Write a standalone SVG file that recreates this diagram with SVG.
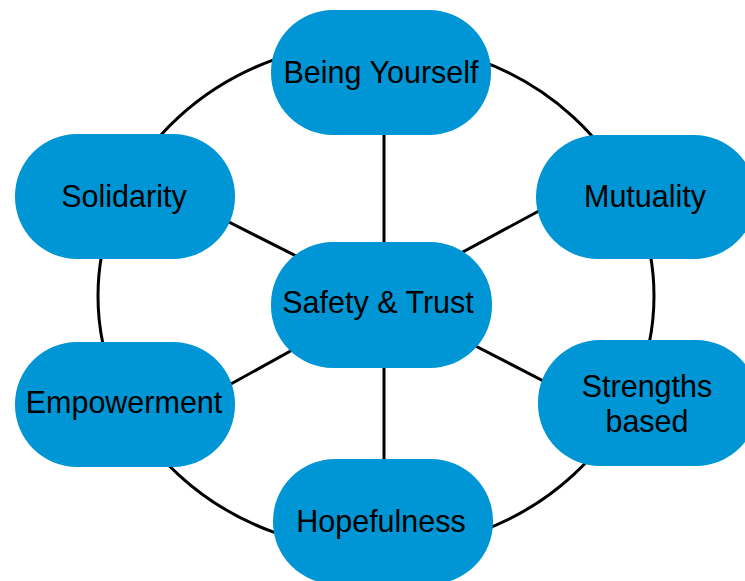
<svg xmlns="http://www.w3.org/2000/svg" width="745" height="581" viewBox="0 0 745 581">
  <style>
    .link { fill: none; stroke: #000; stroke-width: 3; }
    .pill { fill: #0095d4; }
    .label { font-family: "Liberation Sans", Arial, sans-serif; font-size: 30.5px; fill: #000; text-anchor: middle; }
  </style>
  <rect width="745" height="581" fill="#fff"/>

  <!-- connectors: outer ring and spokes from the hub -->
  <g id="connectors">
    <ellipse class="link" cx="376" cy="296" rx="278" ry="254"/>
    <line class="link" x1="384" y1="120" x2="384" y2="260"/>
    <line class="link" x1="384" y1="350" x2="384" y2="475"/>
    <line class="link" x1="215" y1="215" x2="310" y2="263"/>
    <line class="link" x1="550" y1="205" x2="448" y2="260"/>
    <line class="link" x1="555" y1="387" x2="460" y2="338"/>
    <line class="link" x1="220" y1="390" x2="305" y2="343"/>
  </g>

  <g id="being-yourself">
    <rect class="pill" x="271" y="10" width="220" height="125" rx="62" ry="62"/>
    <text class="label" x="381" y="83">Being Yourself</text>
  </g>

  <g id="mutuality">
    <rect class="pill" x="536" y="135" width="220" height="124" rx="62" ry="62"/>
    <text class="label" x="645" y="207">Mutuality</text>
  </g>

  <g id="strengths-based">
    <rect class="pill" x="538" y="340" width="220" height="126" rx="62" ry="62"/>
    <text class="label" x="647" y="397">Strengths</text>
    <text class="label" x="647" y="432">based</text>
  </g>

  <g id="hopefulness">
    <rect class="pill" x="273" y="459" width="220" height="125" rx="62" ry="62"/>
    <text class="label" x="381" y="532">Hopefulness</text>
  </g>

  <g id="empowerment">
    <rect class="pill" x="15" y="342" width="220" height="125" rx="62" ry="62"/>
    <text class="label" x="124" y="413">Empowerment</text>
  </g>

  <g id="solidarity">
    <rect class="pill" x="15" y="134" width="220" height="125" rx="62" ry="62"/>
    <text class="label" x="124" y="207">Solidarity</text>
  </g>

  <g id="safety-trust">
    <rect class="pill" x="271" y="242" width="221" height="126" rx="62" ry="62"/>
    <text class="label" x="378" y="313">Safety &amp; Trust</text>
  </g>
</svg>
